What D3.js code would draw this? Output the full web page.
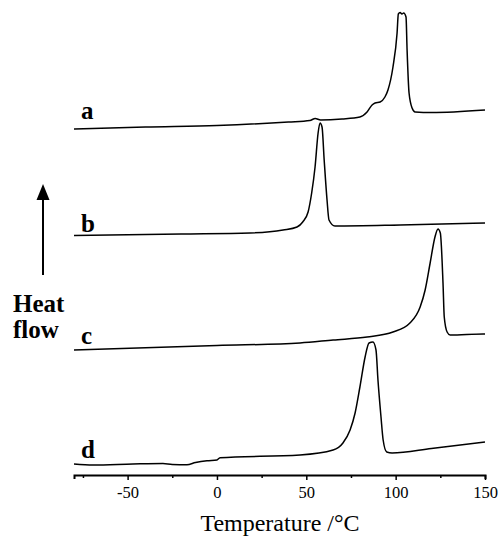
<!DOCTYPE html>
<html>
<head>
<meta charset="utf-8">
<script src="https://cdn.jsdelivr.net/npm/d3@7"></script>
<style>
  body { margin: 0; background: #fff; }
  .chart text { font-family: "Liberation Serif", "Times New Roman", serif; fill: #000; }
</style>
</head>
<body>
<div class="chart"></div>
<script>
// DSC traces, temperature (°C) vs heat flow (arbitrary units, curves stacked)
var curveNames = ['a', 'b', 'c', 'd'];

var tempA = [-80, -40, 0, 40, 52, 55, 58, 70, 80, 84, 86.8, 88.5, 91.3, 94, 95.7, 98.5, 100.8, 101.5, 102.5, 103.5, 104.5, 105.8, 106.4, 107.5, 109.2, 110.9, 120, 150];
var flowA = [34.6, 34.8, 34.95, 35.3, 35.45, 35.65, 35.5, 35.6, 35.8, 36.3, 37.0, 37.2, 37.3, 37.8, 38.5, 40.8, 44.2, 46.1, 46.25, 46.1, 46.2, 45.8, 42.5, 38.2, 36.7, 36.3, 36.25, 36.5];

var tempB = [-80, -20, 18.5, 37, 44.8, 48, 51, 53, 54.9, 56.6, 57.7, 58.8, 60, 61.6, 62.7, 66, 102.5, 150];
var flowB = [23.95, 24.1, 24.2, 24.5, 24.8, 25.3, 26.3, 28.2, 30.8, 34.2, 35.2, 34.8, 31.5, 27.5, 25.5, 24.9, 25.0, 25.2];

var tempC = [-80, 0, 46.5, 65, 84, 98.5, 108, 113.7, 116.5, 119.3, 122, 123.7, 125, 126.5, 127.2, 128.8, 130.5, 149, 150];
var flowC = [12.5, 12.95, 13.2, 13.5, 13.8, 14.3, 15.2, 16.8, 18.5, 21.2, 23.8, 24.6, 24.2, 19.2, 15.8, 14.3, 14.0, 14.1, 14.1];

var tempD = [-80, -69.4, -47, -30.2, -25, -16.8, -12, -5.6, 0, 1.7, 46.5, 65, 70.5, 74.5, 77.3, 80, 82.9, 85.1, 87.3, 89, 90.1, 91.8, 93, 95, 98, 120, 150];
var flowD = [1.1, 1.0, 1.1, 1.15, 1.05, 1.03, 1.25, 1.43, 1.5, 1.73, 2.0, 2.5, 3.2, 4.5, 6.2, 8.8, 11.8, 13.2, 13.3, 12.5, 9.5, 5.8, 3.5, 2.3, 2.2, 2.65, 3.3];

var xTicks = [-75, -50, -25, 0, 25, 50, 75, 100, 125, 150];
var xTickLabels = ['-50', '0', '50', '100', '150'];

var curves = [
  { name: 'a', t: tempA, v: flowA },
  { name: 'b', t: tempB, v: flowB },
  { name: 'c', t: tempC, v: flowC },
  { name: 'd', t: tempD, v: flowD }
];

var width = 500, height = 541;
var axisY = 475;

var x = d3.scaleLinear().domain([-80, 150]).range([74, 485]);
var y = d3.scaleLinear().domain([0, 47]).range([axisY, 5]);

var svg = d3.select('.chart').append('svg')
    .attr('width', width)
    .attr('height', height);

var line = d3.line()
    .x(function(d) { return x(d[0]); })
    .y(function(d) { return y(d[1]); })
    .curve(d3.curveMonotoneX);

svg.selectAll('path.trace')
    .data(curves)
  .enter().append('path')
    .attr('class', 'trace')
    .attr('fill', 'none')
    .attr('stroke', '#000')
    .attr('stroke-width', 1.5)
    .attr('d', function(c) { return line(d3.zip(c.t, c.v)); });

// curve letters, sitting just above the left end of each trace
var labelDy = [10, 4, 6, 6];
svg.selectAll('text.lbl')
    .data(curves)
  .enter().append('text')
    .attr('class', 'lbl')
    .attr('x', 81)
    .attr('y', function(c, i) { return y(c.v[0]) - labelDy[i]; })
    .attr('font-size', 25)
    .attr('font-weight', 'bold')
    .text(function(c) { return c.name; });

// x axis
var xAxis = d3.axisBottom(x)
    .tickValues(xTicks)
    .tickSizeOuter(0)
    .tickSize(4)
    .tickFormat(function(d) { return d % 50 === 0 ? xTickLabels[[-50, 0, 50, 100, 150].indexOf(d)] : ''; });

var gx = svg.append('g')
    .attr('class', 'axis axis--x')
    .attr('transform', 'translate(0,' + axisY + ')')
    .call(xAxis);
gx.select('.domain').attr('stroke', '#000').attr('stroke-width', 2);
gx.selectAll('.tick line').attr('stroke', '#000').attr('stroke-width', 1.5)
    .attr('y2', function(d) { return d % 50 === 0 ? 5 : 3; });
gx.selectAll('.tick text')
    .attr('font-family', '"Liberation Serif", "Times New Roman", serif')
    .attr('font-size', 16.5)
    .attr('fill', '#000')
    .attr('y', 11);

svg.append('text')
    .attr('x', 280)
    .attr('y', 531)
    .attr('text-anchor', 'middle')
    .attr('font-size', 24)
    .text('Temperature /°C');

// heat flow arrow
svg.append('line')
    .attr('x1', 43).attr('x2', 43)
    .attr('y1', 275).attr('y2', 198)
    .attr('stroke', '#000')
    .attr('stroke-width', 2);
svg.append('path')
    .attr('d', 'M43,184 L36.5,200 L49.5,200 Z')
    .attr('fill', '#000');

svg.append('text')
    .attr('x', 13).attr('y', 312)
    .attr('font-size', 25)
    .attr('font-weight', 'bold')
    .text('Heat');
svg.append('text')
    .attr('x', 13).attr('y', 338)
    .attr('font-size', 25)
    .attr('font-weight', 'bold')
    .text('flow');
</script>
</body>
</html>
